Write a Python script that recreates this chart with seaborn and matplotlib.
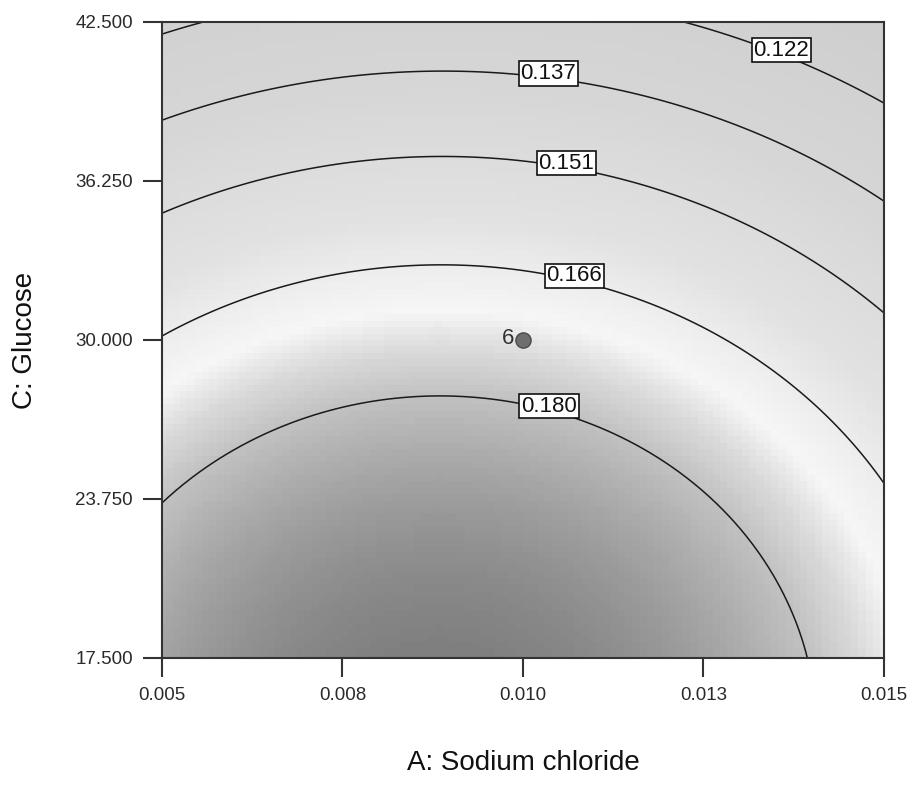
import numpy as np
import pandas as pd
import seaborn as sns
import matplotlib
matplotlib.use("Agg")
import matplotlib.pyplot as plt
from matplotlib.colors import LinearSegmentedColormap, Normalize
from matplotlib.transforms import ScaledTranslation

# ---------------- data ----------------
x_limits = [0.005, 0.015]          # A: Sodium chloride
y_limits = [17.5, 42.5]            # C: Glucose
x_ticks = [0.005, 0.0075, 0.010, 0.0125, 0.015]
x_tick_labels = ["0.005", "0.008", "0.010", "0.013", "0.015"]
y_ticks = [17.5, 23.75, 30.0, 36.25, 42.5]
y_tick_labels = ["17.500", "23.750", "30.000", "36.250", "42.500"]

contour_levels = [0.122, 0.137, 0.151, 0.166, 0.180]

# points on each contour line
trace_x = [0.005, 0.008753, 0.013934,
           0.005, 0.008670, 0.015,
           0.005, 0.008850, 0.015,
           0.005, 0.008989, 0.015,
           0.005, 0.005526, 0.012258, 0.015]
trace_y = [23.59, 27.64, 17.5,
           30.28, 32.99, 24.50,
           34.91, 37.15, 30.98,
           38.73, 40.65, 35.54,
           41.91, 42.5, 42.5, 39.24]
trace_level = [0.180, 0.180, 0.180,
               0.166, 0.166, 0.166,
               0.151, 0.151, 0.151,
               0.137, 0.137, 0.137,
               0.122, 0.122, 0.122, 0.122]

# where the boxed contour labels sit
label_x = [0.013629, 0.010374, 0.010623, 0.010748, 0.010388]
label_y = [41.60, 40.83, 37.15, 32.83, 27.52]

# design point (centre point, 6 replicates)
design_x = [0.010]
design_y = [30.0]
design_count = ["6"]

# grey shading ramp (response value -> grey level)
shade_values = [0.110, 0.140, 0.160, 0.1715, 0.1755, 0.180, 0.186, 0.197]
shade_greys = [0.81, 0.84, 0.885, 0.965, 0.86, 0.76, 0.65, 0.45]

# ---------------- quadratic response surface fitted to the traced contours ----------------
def coded(x, y):
    a = (np.asarray(x) - 0.010) / 0.005
    c = (np.asarray(y) - 30.0) / 12.5
    return a, c

def design(a, c):
    return np.column_stack([np.ones_like(a), a, c, a * a, c * c, a * c])

ta, tc = coded(trace_x, trace_y)
coef, *_ = np.linalg.lstsq(design(ta, tc), np.asarray(trace_level), rcond=None)

n = 100
gx = np.linspace(x_limits[0], x_limits[1], n)
gy = np.linspace(y_limits[0], y_limits[1], n)
GX, GY = np.meshgrid(gx, gy)
ga, gc = coded(GX.ravel(), GY.ravel())
GZ = (design(ga, gc) @ coef).reshape(GX.shape)

# ---------------- style ----------------
sns.set_theme(style="white")
plt.rcParams["font.family"] = ["Liberation Sans", "DejaVu Sans"]

vmin, vmax = shade_values[0], shade_values[-1]
stops = [((v - vmin) / (vmax - vmin), (g, g, g)) for v, g in zip(shade_values, shade_greys)]
cmap = LinearSegmentedColormap.from_list("de_grey", stops)

fig = plt.figure(figsize=(9.12, 7.94), dpi=100)
fig.patch.set_facecolor("white")
ax = fig.add_axes([0.1776, 0.1713, 0.7917, 0.8010])

ax.pcolormesh(GX, GY, GZ, cmap=cmap, norm=Normalize(vmin, vmax), shading="nearest",
              rasterized=True, zorder=0)
cs = ax.contour(GX, GY, GZ, levels=contour_levels, colors="#1a1a1a", linewidths=1.1, zorder=2)
texts = ax.clabel(cs, manual=list(zip(label_x, label_y)), inline=False,
                  fmt="%.3f", fontsize=16, colors="#111111")
lift = ScaledTranslation(0, 3 / 72, fig.dpi_scale_trans)
for t in texts:
    t.set_rotation(0)
    t.set_transform(ax.transData + lift)
    t.set_bbox(dict(facecolor="white", edgecolor="#111111", linewidth=1.2, pad=1.3))
    t.set_zorder(5)

pts = pd.DataFrame({"x": design_x, "y": design_y, "n": design_count})
sns.scatterplot(data=pts, x="x", y="y", ax=ax, s=120, marker="o", color="#6e6e6e",
                edgecolor="#4a4a4a", linewidth=1.0, zorder=6, legend=False)
for _, r in pts.iterrows():
    ax.annotate(r["n"], (r["x"], r["y"]), xytext=(-6, 1), textcoords="offset points",
                ha="right", va="center", fontsize=16, color="#333333", zorder=6)

ax.set_xlim(x_limits)
ax.set_ylim(y_limits)
ax.set_xticks(x_ticks)
ax.set_xticklabels(x_tick_labels)
ax.set_yticks(y_ticks)
ax.set_yticklabels(y_tick_labels)
ax.tick_params(axis="both", direction="out", length=14, width=1.5, color="#333333",
               pad=7, labelsize=13.5, labelcolor="#2a2a2a",
               bottom=True, left=True, top=False, right=False)
for sp in ax.spines.values():
    sp.set_visible(True)
    sp.set_color("#333333")
    sp.set_linewidth(1.5)

ax.set_xlabel("A: Sodium chloride", fontsize=20, color="#111111", labelpad=33)
ax.set_ylabel("C: Glucose", fontsize=20, color="#111111", labelpad=27)

fig.savefig("out.png", dpi=100, facecolor="white")
